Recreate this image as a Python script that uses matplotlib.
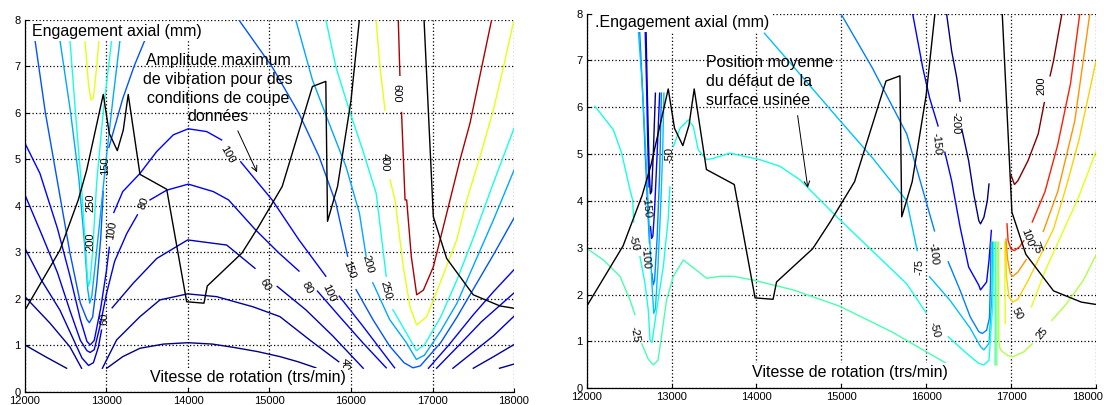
import numpy as np
import matplotlib
matplotlib.use('Agg')
import matplotlib.pyplot as plt
from matplotlib import colors, transforms

plt.rcParams['font.family'] = ['Liberation Sans', 'DejaVu Sans']
nan = np.nan

# ---------------- left chart : vibration amplitude ----------------
a20_x = [12000, 12250, 12511, nan, 13003, 13200, 13411, 13700, 14000, 14300, 14556, 14850, 15129, 15350, 15568, nan, 17822, 18000]
a20_y = [1.00, 0.75, 0.50, nan, 0.50, 0.75, 0.93, 1.02, 1.05, 1.02, 0.95, 0.86, 0.75, 0.64, 0.51, nan, 0.50, 0.59]

a40_x = [12000, 12307, 12552, 12695, nan, 12950, 13125, 13411, 13656, 13996, 14352, 14801, 15129, 15500, 15850, nan, 17500, 17750, 18000]
a40_y = [2.04, 1.47, 0.96, 0.50, nan, 0.50, 1.11, 1.61, 1.97, 2.10, 2.04, 1.82, 1.61, 1.10, 0.64, nan, 0.50, 0.75, 1.01]

a60_x = [12000, 12200, 12429, 12600, 12700, 12780, 12840, 12900, 12940, nan, 13070, 13329, 13616, 13996, 14475, 14822, nan,
         15095, 15444, 15774, 16150, nan, 17250, 17500, 17750, 18000]
a60_y = [3.08, 2.40, 1.75, 1.10, 0.72, 0.56, 0.62, 0.95, 1.32, nan, 1.80, 2.33, 2.86, 3.26, 3.15, 2.65, nan,
         2.26, 1.76, 1.20, 0.50, nan, 0.50, 0.85, 1.20, 1.62]

a80_x = [12000, 12200, 12400, 12550, 12680, 12760, 12800, 12850, 12920, 13000, 13100, 13250, 13380, nan,
         13534, 13739, 14004, 14310, 14498, 14827, 15115, 15362, nan, 15588, 15856, 16144, 16432, nan,
         17050, 17300, 17600, 18000]
a80_y = [4.23, 3.40, 2.55, 1.75, 1.10, 0.88, 0.84, 0.90, 1.40, 2.10, 2.80, 3.40, 3.80, nan,
         4.12, 4.33, 4.46, 4.30, 4.12, 3.48, 2.98, 2.59, nan, 2.16, 1.62, 1.05, 0.51, nan,
         0.50, 0.95, 1.50, 2.12]

a100_x = [12000, 12184, 12400, 12550, 12680, 12760, 12800, 12850, 12930, 13000, 13035, nan, 13090, 13200, 13411, 13616,
          13820, 14004, 14230, 14413, nan, 14647, 15033, 15362, 15691, nan, 15856, 16144, 16391, 16535, nan,
          16950, 17200, 17500, 17750, 18000]
a100_y = [5.34, 4.69, 3.50, 2.50, 1.55, 1.08, 1.00, 1.10, 1.80, 2.60, 3.10, nan, 3.85, 4.30, 4.69, 5.16,
          5.52, 5.65, 5.59, 5.41, nan, 4.94, 4.12, 3.26, 2.48, nan, 2.05, 1.41, 0.84, 0.51, nan,
          0.50, 1.00, 1.65, 2.15, 2.62]

a150_x = [12123, 12250, 12400, 12550, 12680, 12760, 12790, 12830, 12880, 12930, 12960, nan, 13030, 13200, 13340, 13472, nan,
          14621, 15033, 15362, 15609, 15815, 15959, nan, 16062, 16268, 16473, 16650, 16760, 16850, 16950,
          17100, 17300, 17500, 17750, 18000]
a150_y = [7.56, 6.00, 4.50, 3.00, 1.90, 1.55, 1.48, 1.60, 2.30, 3.30, 4.30, nan, 5.25, 6.30, 7.00, 7.56, nan,
          8.00, 6.98, 5.98, 5.05, 4.05, 2.91, nan, 2.19, 1.55, 0.98, 0.62, 0.51, 0.55, 0.75,
          1.05, 1.60, 2.20, 2.95, 3.73]

a200_x = [12429, 12560, 12660, 12730, 12770, 12795, 12820, 12860, 12920, 12990, 13080, 13166, nan,
          15321, 15527, 15733, 15938, 16103, 16185, nan, 16267, 16473, 16679, 16802, 16900,
          17100, 17300, 17500, 17750, 18000]
a200_y = [7.56, 6.00, 4.60, 3.20, 2.20, 1.90, 2.05, 2.70, 3.70, 4.90, 6.30, 7.56, nan,
          8.00, 6.70, 5.76, 4.84, 3.84, 2.91, nan, 2.34, 1.55, 1.05, 0.69, 0.78,
          1.30, 1.90, 2.70, 3.70, 4.76]

a250_x = [12552, 12620, 12690, 12740, 12765, 12780, 12800, 12830, 12880, 12960, 13064, nan,
          15691, 15815, 15979, 16144, 16309, 16432, nan, 16514, 16679, 16802, 16900,
          17100, 17300, 17500, 17750, 18000]
a250_y = [7.56, 6.00, 4.50, 3.20, 2.50, 2.26, 2.40, 3.00, 4.50, 6.00, 7.56, nan,
          8.00, 6.98, 6.05, 5.19, 4.26, 2.48, nan, 1.76, 1.26, 0.88, 1.00,
          1.60, 2.40, 3.30, 4.50, 5.66]

a400_x = [12736, 12780, 12810, 12840, 12880, 12908, nan,
          16307, 16356, 16417, nan, 16479, 16540, 16642, 16724, 16806, 16929, 17092, 17297, 17420, 17583, 17746, 17890, 18000]
a400_y = [7.56, 6.60, 6.27, 6.32, 6.98, 7.56, nan,
          8.00, 6.98, 6.05, nan, 4.55, 4.12, 2.68, 1.82, 1.43, 1.61, 2.33, 3.26, 4.12, 5.05, 6.05, 7.13, 8.00]

a600_x = [16580, 16600, nan, 16620, 16663, 16683, 16740, 16806, 16888, 17010, 17215, 17337, 17460, 17604, 17726]
a600_y = [8.00, 6.80, nan, 6.00, 4.12, 4.12, 2.90, 2.08, 2.18, 2.68, 4.12, 4.98, 5.77, 6.98, 8.00]

amp_lines = [(20, a20_x, a20_y), (40, a40_x, a40_y), (60, a60_x, a60_y), (80, a80_x, a80_y),
             (100, a100_x, a100_y), (150, a150_x, a150_y), (200, a200_x, a200_y),
             (250, a250_x, a250_y), (400, a400_x, a400_y), (600, a600_x, a600_y)]

amp_lab_txt = ['600', '400', '250', '200', '150', '100', '80', '60', '100', '60', '80', '100', '150', '200', '250', '40']
amp_lab_x = [16560, 16417, 12804, 12804, 12982, 13064, 13462, 12969, 14477, 14951, 15465, 15732, 15979, 16206, 16432, 15918]
amp_lab_y = [6.41, 4.94, 4.05, 3.22, 4.85, 3.47, 4.05, 1.57, 5.09, 2.30, 2.23, 2.12, 2.62, 2.73, 2.19, 0.59]
amp_lab_rot = [-90, -90, 90, 90, 90, 80, 70, 90, -60, -60, -60, -65, -70, -75, -75, -90]

# ---------------- right chart : mean position of the surface defect ----------------
d_m200_x = [12700, 12712, 12725, 12738, 12750, 12765, 12785, 12810, nan,
            16240, 16300, 16360, 16400, nan, 16420, 16500, 16560, 16620, 16640, 16680, 16720, 16740]
d_m200_y = [7.60, 6.50, 5.50, 4.60, 4.15, 4.20, 5.00, 6.30, nan,
            8.00, 7.20, 6.63, 6.13, nan, 5.53, 4.86, 4.15, 3.58, 3.51, 3.65, 4.00, 4.36]

d_m150_x = [12690, 12705, 12720, 12735, nan, 12752, 12765, 12780, 12800, 12830, 12860, nan,
            15840, 15960, 16040, 16140, nan, 16220, 16300, 16400, 16500, 16620, 16640, 16712, 16740, 16768]
d_m150_y = [7.60, 6.50, 5.20, 4.30, nan, 3.45, 3.20, 3.25, 3.80, 5.00, 6.30, nan,
            8.00, 6.84, 6.20, 5.60, nan, 5.04, 4.43, 3.44, 2.59, 2.20, 2.10, 2.27, 2.73, 3.37]

d_m100_x = [12625, 12660, 12690, 12720, 12740, nan, 12770, 12785, 12800, 12830, 12860, 12880, nan,
            14994, 15362, 15771, 16098, nan, 16260, 16400, 16520, 16620, 16660, 16712, 16745, 16758, 16762]
d_m100_y = [7.60, 6.30, 5.00, 3.80, 3.10, nan, 2.45, 2.21, 2.30, 3.20, 4.60, 6.30, nan,
            8.00, 6.85, 5.43, 3.36, nan, 2.70, 2.09, 1.52, 1.21, 1.17, 1.24, 1.50, 2.30, 3.12]

d_m75_x = [12610, 12650, 12680, 12710, 12740, 12770, 12790, 12810, 12840, 12870, 12895, 12910, nan,
           14094, 14544, 14953, 15362, 15771, 15894, nan, 16040, 16280, 16520, 16640, 16680, 16740, 16775, 16782]
d_m75_y = [7.60, 6.60, 5.60, 4.50, 3.30, 2.20, 1.60, 1.70, 2.60, 3.80, 5.00, 6.30, nan,
           7.58, 6.64, 5.78, 4.93, 4.00, 2.94, nan, 2.38, 1.88, 1.28, 0.89, 0.82, 0.96, 2.00, 3.12]

d_m50_x = [12098, 12314, 12412, 12510, 12542, 12555, nan, 12628, 12687, 12726, 12746, 12770, 12824, 12903, 12960, 12981, nan,
           13021, 13100, 13198, 13256, 13315, 13413, 13492, 13688, 14041, 14277, 14513, 14953, 15362, 15771, 15996, nan,
           16260, 16480, 16620, 16680, 16740, 16785, 16795]
d_m50_y = [6.02, 5.52, 5.02, 4.24, 4.02, 3.55, nan, 2.81, 2.24, 1.67, 1.03, 0.98, 1.67, 2.60, 3.60, 4.30, nan,
           5.16, 5.55, 5.73, 5.59, 5.09, 4.88, 4.91, 5.02, 4.88, 4.74, 4.45, 3.65, 2.94, 2.23, 1.62, nan,
           1.10, 0.74, 0.53, 0.50, 0.60, 1.80, 3.12]

d_m25_x = [12000, 12196, 12393, 12510, 12569, nan, 12650, 12726, 12785, 12840, 12864, 12942, 13021, 13139, 13413, 13570,
           13727, 13963, 14434, 14984, 15600, 16221, nan, 16812, 16815]
d_m25_y = [2.99, 2.74, 2.39, 1.89, 1.57, nan, 0.95, 0.62, 0.50, 0.60, 0.89, 1.89, 2.39, 2.74, 2.35, 2.39,
           2.39, 2.31, 2.10, 1.75, 1.20, 0.55, nan, 0.50, 3.12]

d_0_x = [16832, 16835]
d_0_y = [0.50, 3.12]

d_p25_x = [16852, 16855, 16870, 16900, 16960, 17020, 17150, 17250, nan, 17480, 17650, 17850, 18000]
d_p25_y = [3.12, 1.00, 0.85, 0.78, 0.70, 0.67, 0.78, 0.95, nan, 1.45, 1.80, 2.30, 2.84]

d_p50_x = [16925, 16928, 16932, nan, 17240, 17400, 17600, 17800, 18000]
d_p50_y = [3.12, 2.20, 1.38, nan, 1.74, 2.50, 3.30, 4.10, 5.05]

d_p75_x = [16935, 16945, 16975, 17020, 17080, 17200, 17350, 17500, 17650, 17800, 18000]
d_p75_y = [3.12, 2.40, 1.95, 1.84, 1.90, 2.30, 2.85, 3.40, 4.30, 5.30, 6.98]

d_p100_x = [16940, 16960, 16990, 17020, 17080, 17180, nan, 17380, 17550, 17750, 17928]
d_p100_y = [3.19, 2.75, 2.45, 2.39, 2.48, 2.75, nan, 3.35, 4.20, 5.70, 8.00]

d_p150_x = [16952, 16965, 17000, 17040, 17100, 17150, nan, 17250, 17400, 17550, 17700, 17810]
d_p150_y = [3.51, 3.15, 2.97, 2.94, 3.02, 3.15, nan, 3.55, 4.20, 5.20, 6.50, 8.00]

d_p200_x = [17000, 17040, 17080, 17200, 17320, 17392, nan, 17460, 17500, 17560, 17600]
d_p200_y = [4.55, 4.35, 4.43, 4.86, 5.43, 6.10, nan, 6.67, 6.99, 7.60, 8.00]

def_lines = [(-200, d_m200_x, d_m200_y), (-150, d_m150_x, d_m150_y), (-100, d_m100_x, d_m100_y),
             (-75, d_m75_x, d_m75_y), (-50, d_m50_x, d_m50_y), (-25, d_m25_x, d_m25_y), (0, d_0_x, d_0_y),
             (25, d_p25_x, d_p25_y), (50, d_p50_x, d_p50_y), (75, d_p75_x, d_p75_y),
             (100, d_p100_x, d_p100_y), (150, d_p150_x, d_p150_y), (200, d_p200_x, d_p200_y)]

def_lab_txt = ['200', '-200', '-150', '-100', '-75', '-50', '100', '75', '50', '25', '-50', '-150', '-100', '-50', '-25']
def_lab_x = [17352, 16340, 16120, 16080, 15920, 16100, 17188, 17300, 17072, 17360, 12981, 12707, 12687, 12550, 12569]
def_lab_y = [6.45, 5.67, 5.21, 2.87, 2.59, 1.24, 3.21, 3.00, 1.60, 1.17, 4.99, 3.88, 2.78, 3.10, 1.14]
def_lab_rot = [90, -90, -85, -85, 90, -75, -70, -70, -60, 50, 90, -85, -85, -75, -80]

# stability limit (same curve on both charts)
lim_x = [12000, 12429, 12654, 12757, 12961, 13035, 13133, 13206, 13267, 13411, 13739, 13984, 14196, 14237, 14663,
         14868, 15156, 15527, 15691, 15712, 15835, 16000, 16103, nan, 16896, 17010, 17174, 17500, 17828, 18000]
lim_y = [1.75, 3.04, 4.12, 4.76, 6.39, 5.55, 5.18, 5.62, 6.39, 4.67, 4.35, 1.93, 1.90, 2.27, 2.98,
         3.55, 4.41, 6.56, 6.67, 3.66, 4.41, 6.26, 8.00, nan, 8.00, 3.76, 2.86, 2.08, 1.84, 1.79]

fig = plt.figure(figsize=(11.04, 4.05), dpi=100)
ax1 = fig.add_axes([0.0226, 0.0333, 0.443, 0.9185])
ax2 = fig.add_axes([0.5314, 0.0412, 0.4613, 0.9254])

jet = plt.get_cmap('jet')
amp_norm = colors.Normalize(25, 625)
def_norm = colors.Normalize(-200, 200)


def setup(ax):
    ax.set_xlim(12000, 18000)
    ax.set_ylim(0, 8)
    ax.set_xticks(range(12000, 18001, 1000))
    ax.set_yticks(range(0, 9))
    ax.grid(True, color='k', linestyle=(0, (1, 1.8)), linewidth=0.9)
    for s in ['top', 'right']:
        ax.spines[s].set_visible(False)
    ax.spines['left'].set_linewidth(0.9)
    ax.spines['bottom'].set_linewidth(0.9)
    ax.tick_params(direction='in', length=3, labelsize=8, pad=3)


box = dict(facecolor='white', edgecolor='none', pad=1.5)

setup(ax1)
for lev, xs, ys in amp_lines:
    ax1.plot(xs, ys, color=jet(amp_norm(lev)), lw=1.0)
ax1.plot(lim_x, lim_y, color='k', lw=1.0)
for t, x, y, r in zip(amp_lab_txt, amp_lab_x, amp_lab_y, amp_lab_rot):
    ax1.text(x, y, t, rotation=r, ha='center', va='center', fontsize=8)
ax1.text(12090, 7.75, 'Engagement axial (mm)', ha='left', va='center', fontsize=11.5, bbox=box)
ax1.text(13534, 0.31, 'Vitesse de rotation (trs/min)', ha='left', va='center', fontsize=11.5, bbox=box)
ax1.text(14368, 6.51, 'Amplitude maximum\nde vibration pour des\nconditions de coupe\ndonnées',
         ha='center', va='center', multialignment='center', fontsize=11.5, linespacing=1.3)
ax1.annotate('', xy=(14862, 4.66), xytext=(14597, 5.66),
             arrowprops=dict(arrowstyle='->', color='k', lw=0.7))

setup(ax2)
for lev, xs, ys in def_lines:
    ax2.plot(xs, ys, color=jet(def_norm(lev)), lw=1.0)
ax2.plot(lim_x, lim_y, color='k', lw=1.0)
for t, x, y, r in zip(def_lab_txt, def_lab_x, def_lab_y, def_lab_rot):
    ax2.text(x, y, t, rotation=r, ha='center', va='center', fontsize=8)
ax2.text(12100, 7.8, '.Engagement axial (mm)', ha='left', va='center', fontsize=11.5, bbox=box)
ax2.text(13943, 0.33, 'Vitesse de rotation (trs/min)', ha='left', va='center', fontsize=11.5, bbox=box)
ax2.text(13402, 6.55, 'Position moyenne\ndu défaut de la\nsurface usinée',
         ha='left', va='center', fontsize=11.5, linespacing=1.3)
ax2.annotate('', xy=(14610, 4.22), xytext=(14481, 5.88),
             arrowprops=dict(arrowstyle='->', color='k', lw=0.7))

# last tick label of the right chart sits a little to the left, as in the scan
fig.canvas.draw()
lbl = ax2.get_xticklabels()[-1]
lbl.set_transform(lbl.get_transform() + transforms.ScaledTranslation(-8 / 100, 0, fig.dpi_scale_trans))

fig.savefig('out.png', dpi=100)
